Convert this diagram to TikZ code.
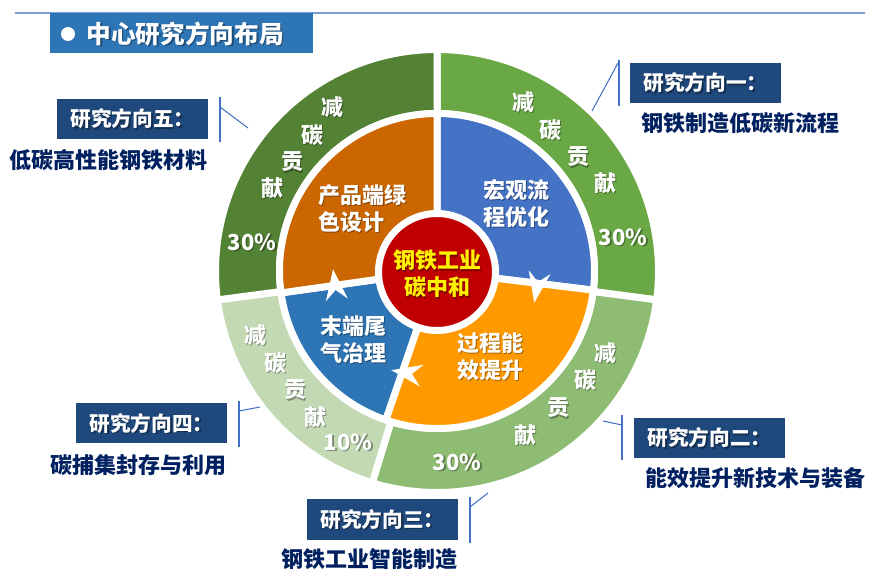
\documentclass[tikz,border=0pt]{standalone}
\usepackage{fontspec}
\setmainfont{Noto Sans CJK SC}

\definecolor{ringA}{RGB}{84,130,53}
\definecolor{ringB}{RGB}{106,168,69}
\definecolor{ringC}{RGB}{143,188,115}
\definecolor{ringD}{RGB}{194,217,180}
\definecolor{secA}{RGB}{204,102,0}
\definecolor{secB}{RGB}{68,114,196}
\definecolor{secC}{RGB}{255,153,0}
\definecolor{secD}{RGB}{46,117,182}
\definecolor{coreRed}{RGB}{192,0,0}
\definecolor{boxBlue}{RGB}{31,73,125}
\definecolor{titleBlue}{RGB}{46,117,182}
\definecolor{subNavy}{RGB}{0,32,96}
\definecolor{lineBlue}{RGB}{68,114,196}
\definecolor{topLine}{RGB}{125,155,212}

\tikzset{every picture/.style={line width=0.75pt}}
\tikzset{
  sector/.style={draw=white, line width=5.25pt, line join=round},
  wtxt/.style={text=white, font=\bfseries\fontsize{16.5}{20.25}\selectfont, inner sep=0pt, align=left},
  coretxt/.style={text=yellow, font=\bfseries\fontsize{16.5}{20.25}\selectfont, inner sep=0pt, align=center},
  boxtxt/.style={text=white, font=\bfseries\fontsize{15.5}{18}\selectfont, inner sep=0pt},
  titletxt/.style={text=white, font=\bfseries\fontsize{18.5}{22}\selectfont, inner sep=0pt, anchor=west},
  subtxt/.style={text=subNavy, font=\bfseries\fontsize{16.5}{20}\selectfont, inner sep=0pt},
  dirbox/.style={fill=boxBlue, minimum width=113.25pt, minimum height=30pt, inner sep=0pt},
  titlebox/.style={fill=titleBlue, minimum width=197.25pt, minimum height=30pt, inner sep=0pt},
  bracket/.style={draw=lineBlue, line width=0.8pt},
  turn/.style={fill=white}
}

% text with a soft drop shadow: [style]{name}{x,y}{text}
\newcommand{\shtext}[4][wtxt]{%
  \node[#1, text=black, text opacity=0.35] at ([shift={(1.5,1.5)}]#3) {#4};
  \node[#1] (#2) at (#3) {#4};}

\begin{document}
\begin{tikzpicture}[x=0.75pt,y=0.75pt,yscale=-1,xscale=1]
\useasboundingbox (0,0) rectangle (878,580);

%Straight Lines
\coordinate (ruleL) at (15,13);
\coordinate (ruleR) at (865,13);
\draw[topLine, line width=1.1pt] (ruleL) -- (ruleR);

%Shape: Rectangle
\node[titlebox] (title) at (181.5,33) {};
\node[fill=white, circle, inner sep=0pt, minimum size=10.5pt] (bullet) at (68,34) {};
\shtext[titletxt]{titletext}{86,34}{中心研究方向布局}

\begin{scope}[shift={(437,271)}]
%Shape: Ring Segment
\filldraw[sector, fill=ringB] (-90:157.5) arc (-90:7.5:157.5) -- (7.5:221.5) arc (7.5:-90:221.5) -- cycle;
%Shape: Ring Segment
\filldraw[sector, fill=ringC] (7.5:157.5) arc (7.5:107:157.5) -- (107:221.5) arc (107:7.5:221.5) -- cycle;
%Shape: Ring Segment
\filldraw[sector, fill=ringD] (107:157.5) arc (107:172.5:157.5) -- (172.5:221.5) arc (172.5:107:221.5) -- cycle;
%Shape: Ring Segment
\filldraw[sector, fill=ringA] (172.5:157.5) arc (172.5:270:157.5) -- (270:221.5) arc (270:172.5:221.5) -- cycle;

%Shape: Sector
\filldraw[sector, fill=secB] (0,0) -- (-90:157.5) arc (-90:7:157.5) -- cycle;
%Shape: Sector
\filldraw[sector, fill=secC] (0,0) -- (7:157.5) arc (7:109:157.5) -- cycle;
%Shape: Sector
\filldraw[sector, fill=secD] (0,0) -- (109:157.5) arc (109:172:157.5) -- cycle;
%Shape: Sector
\filldraw[sector, fill=secA] (0,0) -- (172:157.5) arc (172:270:157.5) -- cycle;
\end{scope}

%Shape: Circle
\node[circle, fill=coreRed, draw=white, line width=5.25pt, minimum size=87.75pt, inner sep=0pt] (core) at (437,272) {};

%Shape: Arrow Heads
\fill[turn, shift={(537,287)}, rotate=100] (16,0) -- (-15,-11) -- (-5,0) -- (-15,11) -- cycle;
\fill[turn, shift={(407,373)}, rotate=190] (16,0) -- (-15,-11) -- (-5,0) -- (-15,11) -- cycle;
\fill[turn, shift={(335,285)}, rotate=263] (16,0) -- (-15,-11) -- (-5,0) -- (-15,11) -- cycle;

% Text Node
\shtext[coretxt]{coretext}{437,274}{钢铁工业\\碳中和}
% Text Node
\shtext{secAtext}{362,208.5}{产品端绿\\色设计}
% Text Node
\shtext{secBtext}{516,203.5}{宏观流\\程优化}
% Text Node
\shtext{secCtext}{490,356.5}{过程能\\效提升}
% Text Node
\shtext{secDtext}{353,339.5}{末端尾\\气治理}

% Text Node
\shtext{ringBa}{523,102}{减}
\shtext{ringBb}{550,130}{碳}
\shtext{ringBc}{578,157}{贡}
\shtext{ringBd}{605,183}{献}
\shtext{ringBp}{623,237}{30\%}
% Text Node
\shtext{ringCa}{605,353}{减}
\shtext{ringCb}{585,380}{碳}
\shtext{ringCc}{558,408}{贡}
\shtext{ringCd}{525,435}{献}
\shtext{ringCp}{457,462}{30\%}
% Text Node
\shtext{ringDa}{255,335}{减}
\shtext{ringDb}{275,363}{碳}
\shtext{ringDc}{295,390}{贡}
\shtext{ringDd}{315,417}{献}
\shtext{ringDp}{348,442}{10\%}
% Text Node
\shtext{ringAa}{332,107}{减}
\shtext{ringAb}{312,135}{碳}
\shtext{ringAc}{292,162}{贡}
\shtext{ringAd}{272,188}{献}
\shtext{ringAp}{252,242}{30\%}

%Shape: Rectangle
\node[dirbox] (dir1) at (705.5,83) {};
\shtext[boxtxt]{dir1text}{dir1}{研究方向一：}
\node[dirbox] (dir2) at (709.5,438) {};
\shtext[boxtxt]{dir2text}{dir2}{研究方向二：}
\node[dirbox] (dir3) at (382.5,519.5) {};
\shtext[boxtxt]{dir3text}{dir3}{研究方向三：}
\node[dirbox] (dir4) at (151.5,423.5) {};
\shtext[boxtxt]{dir4text}{dir4}{研究方向四：}
\node[dirbox] (dir5) at (132.5,119) {};
\shtext[boxtxt]{dir5text}{dir5}{研究方向五：}

% Text Node
\node[subtxt] (dir1sub) at (740.5,123) {钢铁制造低碳新流程};
\node[subtxt] (dir2sub) at (755,478) {能效提升新技术与装备};
\node[subtxt] (dir3sub) at (369,559) {钢铁工业智能制造};
\node[subtxt] (dir4sub) at (138.5,465) {碳捕集封存与利用};
\node[subtxt] (dir5sub) at (108,160) {低碳高性能钢铁材料};

%Straight Lines
\coordinate (b1top) at (619,60);  \coordinate (b1bot) at (619,106);
\coordinate (b1knee) at (618,63); \coordinate (b1tip) at (592,111);
\draw[bracket] (b1top) -- (b1bot);
\draw[bracket] (b1knee) -- (b1tip);
%Straight Lines
\coordinate (b2top) at (622,415);  \coordinate (b2bot) at (622,460);
\coordinate (b2knee) at (622,425); \coordinate (b2tip) at (603,421);
\draw[bracket] (b2top) -- (b2bot);
\draw[bracket] (b2knee) -- (b2tip);
%Straight Lines
\coordinate (b3top) at (470,497);  \coordinate (b3bot) at (470,543);
\coordinate (b3knee) at (470,507); \coordinate (b3tip) at (488,493);
\draw[bracket] (b3top) -- (b3bot);
\draw[bracket] (b3knee) -- (b3tip);
%Straight Lines
\coordinate (b4top) at (239,401);  \coordinate (b4bot) at (239,447);
\coordinate (b4knee) at (239,411); \coordinate (b4tip) at (260,407);
\draw[bracket] (b4top) -- (b4bot);
\draw[bracket] (b4knee) -- (b4tip);
%Straight Lines
\coordinate (b5top) at (220,97);  \coordinate (b5bot) at (220,142);
\coordinate (b5knee) at (220,107); \coordinate (b5tip) at (248,128);
\draw[bracket] (b5top) -- (b5bot);
\draw[bracket] (b5knee) -- (b5tip);

\end{tikzpicture}
\end{document}
